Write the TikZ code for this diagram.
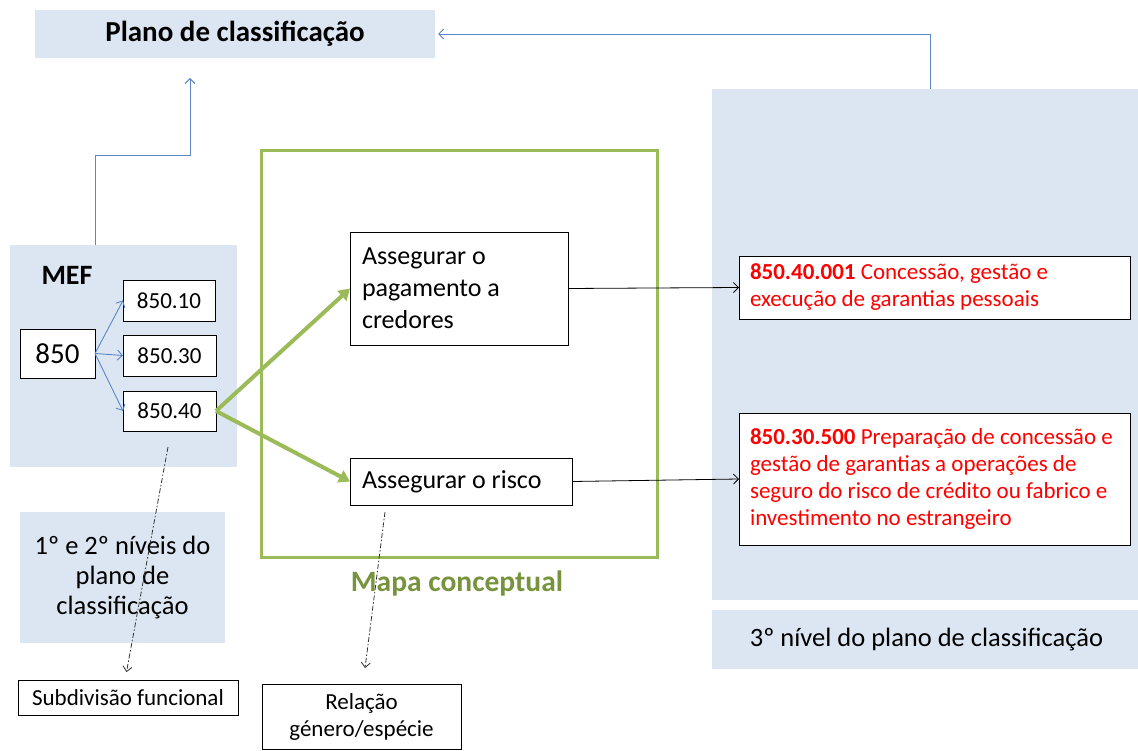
\documentclass[tikz,border=0pt]{standalone}
\usepackage{fontspec}
\setmainfont{Carlito}
\usetikzlibrary{arrows.meta}
\definecolor{lblue}{HTML}{DCE6F2}
\definecolor{linkblue}{HTML}{5B87C5}
\definecolor{gr}{HTML}{9BBB59}
\definecolor{dgr}{HTML}{77933C}
\definecolor{rd}{HTML}{FF0000}
\newcommand\fs[2]{\fontsize{#1}{#2}\selectfont}
\newcommand\nsp{\spaceskip=0pt\xspaceskip=0pt\relax}
\begin{document}
\begin{tikzpicture}[x=1pt,y=-1pt,
  every node/.style={outer sep=0pt, inner sep=0pt},
  panel/.style={fill=lblue, draw=none},
  wbox/.style={draw=black, fill=white, line width=0.9pt},
  blink/.style={draw=linkblue, line width=0.9pt, -{Straight Barb[length=5pt,width=10pt]}},
  tlink/.style={draw=linkblue, line width=0.9pt, -{Straight Barb[length=5pt,width=10pt]}},
  glink/.style={draw=gr, line width=4pt, -{Triangle[length=11pt,width=13pt]}},
  klink/.style={draw=black, line width=0.8pt, -{Straight Barb[length=5pt,width=10pt]}},
  dlink/.style={draw=black!80, line width=0.8pt, dash pattern=on 5pt off 2pt on 1.5pt off 2pt, -{Straight Barb[length=5pt,width=9pt,line width=0.8pt]}}
]
\fill[white] (0,0) rectangle (1138,751);
\useasboundingbox (0,0) rectangle (1138,751);

% panels
\node[panel, minimum width=400pt, minimum height=48pt, font=\fs{29}{35}\bfseries] (plano) at (235,34) {Plano de classificação};
\node[panel, minimum width=426pt, minimum height=511pt] (big) at (925,344.5) {};
\node[panel, minimum width=426pt, minimum height=59pt, font=\fs{26.5}{31}] (niv3) at (925,639.5) {\hspace*{3pt}3º nível do plano de classificação};
\node[panel, minimum width=227pt, minimum height=222pt] (mef) at (123.5,356) {};
\node[panel, minimum width=205pt, minimum height=131pt, align=center, font=\fs{26.5}{30}] (niv12) at (122.5,577.5) {\nsp 1º e 2º níveis do\\plano de\\classificação};

% green frame
\node[draw=gr, line width=3pt, minimum width=396pt, minimum height=406pt] (mapa) at (459,354) {};
\node[text=dgr, font=\fs{29.5}{35}\bfseries] (mapalbl) at (457,583) {Mapa conceptual};

% MEF content
\node[font=\fs{28}{34}\bfseries] (meft) at (67,275) {MEF};
\node[wbox, minimum width=75pt, minimum height=49pt, font=\fs{29}{35}] (n850) at (57.5,353.5) {850};
\node[wbox, minimum width=92pt, minimum height=41pt, font=\fs{23}{28}] (b10) at (169,300.5) {850.10};
\node[wbox, minimum width=93pt, minimum height=41pt, font=\fs{23}{28}] (b30) at (169.5,355.5) {850.30};
\node[wbox, minimum width=93pt, minimum height=40pt, font=\fs{23}{28}] (b40) at (169.5,411) {850.40};

% concept boxes
\node[wbox, minimum width=218pt, minimum height=113pt, text width=194pt, inner xsep=12pt, align=left, font=\fs{26}{32}] (pag) at (459,288.5) {\nsp Assegurar o\\pagamento a\\credores};
\node[wbox, minimum width=222pt, minimum height=47pt, text width=198pt, inner xsep=12pt, align=left, font=\fs{26}{32}] (risco) at (461,481.5) {\nsp Assegurar o risco};

% red boxes
\node[wbox, minimum width=391pt, minimum height=63pt, text width=369pt, inner xsep=11pt, align=left, text=rd, font=\fs{23}{27}] (red1) at (934.5,287.5) {\nsp\textbf{850.40.001} Concessão, gestão e\\execução de garantias pessoais};
\node[wbox, minimum width=391pt, minimum height=132pt, text width=369pt, inner xsep=11pt, align=left, text=rd, font=\fs{23}{27}] (red2) at (934.5,479) {\nsp\textbf{850.30.500} Preparação de concessão e\\gestão de garantias a operações de\\seguro do risco de crédito ou fabrico e\\investimento no estrangeiro};

% bottom boxes
\node[wbox, minimum width=220pt, minimum height=35pt, font=\fs{23}{27}] (sub) at (128,697.5) {Subdivisão funcional};
\node[wbox, minimum width=199pt, minimum height=65pt, align=center, font=\fs{23}{27}] (rel) at (361.5,716.5) {\nsp Relação\\género/espécie};

% connectors
\draw[blink] (n850.east) -- (b10.west);
\draw[blink] (n850.east) -- (b30.west);
\draw[blink] (n850.east) -- (b40.west);
\draw[glink] (b40.east) -- (pag.west);
\draw[glink] (b40.east) -- (risco.west);
\draw[klink] (pag.east) -- (red1.west);
\draw[klink] (risco.east) -- (red2.west);
\coordinate (m1) at (95,245);
\coordinate (m2) at (190,155);
\draw[tlink, shorten >=20pt] (m1) |- (m2) -- (plano.south -| m2);
\coordinate (r1) at (930,89);
\draw[tlink, shorten >=3pt] (r1) |- (plano.east);
\coordinate (d1) at (168,447);
\draw[dlink, shorten >=8pt] (d1) -- ([xshift=-3pt]sub.north);
\coordinate (d2) at (385,512);
\draw[dlink, shorten >=16pt] (d2) -- ([xshift=1.5pt]rel.north);
\end{tikzpicture}
\end{document}
